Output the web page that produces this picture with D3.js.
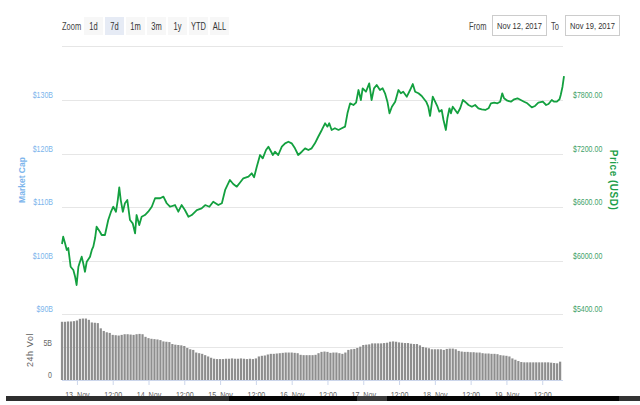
<!DOCTYPE html>
<html>
<head>
<meta charset="utf-8">
<script src="https://cdn.jsdelivr.net/npm/d3@7"></script>
<style>
	body { margin: 0; background: #fff; }
	svg { display: block; font-family: "Liberation Sans", Arial, sans-serif; }
</style>
</head>
<body>
<svg id="chart" width="640" height="405"></svg>
<script>

var startTime = new Date(2017, 10, 12, 19, 0);

// hours after startTime, USD price
var priceHours = [0, 0.4, 1.0, 1.6, 2.1, 2.9, 3.8, 4.4, 4.9, 5.5, 6.0, 6.6, 7.1, 7.7, 8.3, 9.4, 10.0, 10.5, 11.1, 11.6,
	12.7, 13.3, 14.4, 15.5, 16.4, 17.2, 18.1, 18.7, 19.2, 19.7, 20.4, 21.1, 21.9, 22.8, 23.7, 24.5, 25.0, 25.9, 26.7, 27.8,
	28.9, 30.1, 31.2, 32.9, 34.0, 35.1, 36.2, 37.9, 39.0, 40.1, 41.2, 42.4, 43.5, 45.2, 46.8, 48.0, 49.4, 50.7, 52.4, 53.6,
	54.7, 56.3, 57.4, 58.6, 59.7, 60.8, 62.5, 63.6, 64.4, 65.3, 66.4, 67.3, 68.4, 69.2, 69.8, 70.7, 71.4, 72.5, 73.7, 74.8,
	75.9, 77.0, 78.1, 79.2, 80.4, 81.5, 82.6, 83.7, 84.8, 85.9, 87.1, 88.2, 89.0, 89.6, 90.4, 91.5, 92.7, 93.8, 94.9, 95.7,
	96.6, 97.7, 98.6, 99.4, 100.2, 100.8, 101.9, 103.0, 103.8, 104.6, 105.5, 106.6, 107.5, 108.3, 109.1, 109.8, 110.6, 111.7, 112.8, 113.6,
	114.4, 115.6, 116.7, 117.6, 118.4, 119.5, 120.6, 122.1, 122.8, 123.4, 124.3, 125.1, 125.9, 126.5, 127.3, 127.9, 128.7, 129.2, 129.9, 130.4,
	131.0, 131.8, 132.6, 133.5, 134.4, 135.1, 136.3, 137.4, 138.5, 139.6, 140.7, 141.9, 143.0, 143.8, 144.9, 146.0, 146.9, 147.6, 148.2, 149.3,
	150.5, 151.6, 152.7, 153.8, 154.9, 156.0, 157.5, 158.6, 159.7, 161.2, 162.3, 163.1, 164.2, 165.0, 165.9, 166.8, 167.2, 167.8, 168.3];

var priceValues = [6185, 6267, 6196, 6118, 6140, 5930, 5893, 5818, 5725, 5930, 5983, 6043, 5972, 5874, 5987, 6043, 6118, 6155, 6252, 6379,
	6323, 6286, 6286, 6454, 6544, 6603, 6547, 6678, 6821, 6678, 6547, 6642, 6678, 6454, 6417, 6305, 6510, 6398, 6491, 6510,
	6547, 6603, 6698, 6698, 6716, 6642, 6603, 6622, 6547, 6622, 6566, 6491, 6510, 6566, 6585, 6622, 6603, 6659, 6622, 6642,
	6791, 6903, 6858, 6828, 6875, 6922, 6940, 6978, 6933, 7052, 7183, 7146, 7239, 7276, 7239, 7183, 7220, 7183, 7276, 7314,
	7332, 7314, 7258, 7183, 7220, 7258, 7239, 7258, 7314, 7388, 7464, 7539, 7501, 7539, 7464, 7483, 7464, 7483, 7501, 7651,
	7763, 7744, 7770, 7912, 7800, 7931, 7893, 7987, 7800, 7931, 7968, 7912, 7931, 7875, 7781, 7651, 7725, 7781, 7912, 7875,
	7893, 7837, 7912, 7979, 7893, 7875, 7845, 7781, 7725, 7621, 7837, 7781, 7725, 7669, 7688, 7576, 7464, 7595, 7707, 7651,
	7725, 7688, 7651, 7707, 7800, 7781, 7744, 7725, 7744, 7707, 7696, 7688, 7707, 7763, 7770, 7763, 7781, 7875, 7819, 7792,
	7781, 7808, 7819, 7800, 7781, 7763, 7718, 7733, 7770, 7781, 7744, 7755, 7800, 7781, 7781, 7808, 7856, 7949, 8069];

// hourly 24h volume, billions USD
var volumeValues = [8.9, 8.9, 8.95, 8.95, 9.0, 9.1, 9.35, 9.4, 9.4, 9.2, 8.8, 8.75, 8.7, 7.9, 7.5, 7.3, 7.2, 6.9, 6.85, 6.8,
	6.9, 7.0, 7.0, 6.95, 6.9, 7.0, 7.05, 7.0, 6.6, 6.4, 6.3, 6.25, 6.2, 6.1, 5.9, 5.85, 5.8, 5.5, 5.4, 5.35,
	5.3, 5.2, 4.9, 4.7, 4.6, 4.2, 4.1, 4.0, 3.8, 3.6, 3.4, 3.25, 3.2, 3.2, 3.2, 3.25, 3.25, 3.3, 3.25, 3.25,
	3.3, 3.25, 3.2, 3.25, 3.2, 3.3, 3.6, 3.7, 3.75, 3.9, 4.0, 4.0, 4.05, 4.1, 4.15, 4.2, 4.2, 4.2, 4.15, 4.1,
	3.85, 3.8, 3.8, 3.8, 3.8, 3.85, 4.1, 4.3, 4.35, 4.3, 4.15, 4.2, 4.2, 4.1, 4.0, 4.2, 4.6, 4.7, 4.75, 4.9,
	5.1, 5.35, 5.4, 5.45, 5.6, 5.6, 5.6, 5.6, 5.65, 5.7, 5.85, 5.9, 5.85, 5.75, 5.7, 5.65, 5.65, 5.55, 5.5, 5.5,
	5.3, 5.05, 4.95, 4.85, 4.7, 4.7, 4.7, 4.7, 4.6, 4.75, 4.8, 4.8, 4.7, 4.45, 4.35, 4.3, 4.3, 4.25, 4.25, 4.2,
	4.2, 4.1, 4.05, 4.05, 4.0, 4.0, 3.95, 3.8, 3.75, 3.7, 3.6, 3.3, 3.1, 2.9, 2.75, 2.7, 2.7, 2.7, 2.7, 2.7,
	2.7, 2.7, 2.7, 2.7, 2.65, 2.6, 2.55, 2.8];

var capTicks = [90, 100, 110, 120, 130];
var priceTicks = [5400, 6000, 6600, 7200, 7800];
var volumeTicks = [0, 5];
var zoomButtons = ["1d", "7d", "1m", "3m", "1y", "YTD", "ALL"];
var dateRange = ["Nov 12, 2017", "Nov 19, 2017"];

var svg = d3.select("#chart");
var plotLeft = 62, plotRight = 563;

var hour = function (h) { return new Date(startTime.getTime() + h * 3600000); };

// squeeze text horizontally, the original uses a narrow face
function condense(sel, k) {
	sel.each(function () {
		var w = this.getComputedTextLength();
		d3.select(this).attr("textLength", w * k).attr("lengthAdjust", "spacingAndGlyphs");
	});
}

var x = d3.scaleTime()
	.domain([startTime, hour(d3.max(priceHours))])
	.range([plotLeft, 564]);
var yPrice = d3.scaleLinear().domain([5400, 7800]).range([314, 100]);
var yCap = d3.scaleLinear().domain([90, 130]).range([314, 100]);
var yVol = d3.scaleLinear().domain([0, 10]).range([380, 314.6]);

// toolbar
svg.append("text")
	.attr("class", "tb")
	.attr("x", plotLeft).attr("y", 29.5)
	.attr("font-size", 10).attr("fill", "#444")
	.text("Zoom");

var btn = svg.selectAll(".btn").data(zoomButtons).enter().append("g")
	.attr("class", "btn")
	.attr("transform", function (d, i) { return "translate(" + (84 + i * 21) + ",17)"; });
btn.append("rect")
	.attr("width", 19).attr("height", 18)
	.attr("fill", function (d) { return d === "7d" ? "#e6ebf5" : "#f7f7f7"; });
btn.append("text")
	.attr("class", "tb")
	.attr("x", 9.5).attr("y", 12.5)
	.attr("text-anchor", "middle")
	.attr("font-size", 10).attr("fill", "#333")
	.text(function (d) { return d; });

svg.append("text").attr("class", "tb").attr("x", 469).attr("y", 29.5).attr("font-size", 10).attr("fill", "#444").text("From");
svg.append("text").attr("class", "tb").attr("x", 551).attr("y", 29.5).attr("font-size", 10).attr("fill", "#444").text("To");
condense(svg.selectAll(".tb"), 0.75);

var dateBox = svg.selectAll(".datebox").data(dateRange).enter().append("g")
	.attr("class", "datebox")
	.attr("transform", function (d, i) { return "translate(" + (492 + i * 73) + ",15)"; });
dateBox.append("rect")
	.attr("x", 0.5).attr("y", 0.5)
	.attr("width", 54).attr("height", 20)
	.attr("fill", "#fff").attr("stroke", "#ccc");
dateBox.append("text")
	.attr("x", 27.5).attr("y", 14)
	.attr("text-anchor", "middle")
	.attr("font-size", 9.2).attr("fill", "#333")
	.text(function (d) { return d; });
condense(dateBox.selectAll("text"), 0.82);

svg.append("line")
	.attr("x1", plotLeft).attr("x2", plotRight)
	.attr("y1", 46.5).attr("y2", 46.5)
	.attr("stroke", "#e6e6e6");

// grid
svg.append("g").selectAll("line").data(priceTicks).enter().append("line")
	.attr("x1", plotLeft).attr("x2", plotRight)
	.attr("y1", function (d) { return Math.round(yPrice(d)) + 0.5; })
	.attr("y2", function (d) { return Math.round(yPrice(d)) + 0.5; })
	.attr("stroke", "#e6e6e6");
svg.append("g").selectAll("line").data([5]).enter().append("line")
	.attr("x1", plotLeft).attr("x2", plotRight)
	.attr("y1", function (d) { return Math.round(yVol(d)) + 0.5; })
	.attr("y2", function (d) { return Math.round(yVol(d)) + 0.5; })
	.attr("stroke", "#e6e6e6");

// axes
var capAxis = svg.append("g")
	.attr("transform", "translate(" + (plotLeft - 9) + ",0)")
	.call(d3.axisLeft(yCap).tickValues(capTicks).tickSize(0).tickPadding(0)
		.tickFormat(function (d) { return "$" + d + "B"; }));
var priceAxis = svg.append("g")
	.attr("transform", "translate(" + (plotRight + 10) + ",0)")
	.call(d3.axisRight(yPrice).tickValues(priceTicks).tickSize(0).tickPadding(0)
		.tickFormat(function (d) { return "$" + d3.format(".2f")(d); }));
var volAxis = svg.append("g")
	.attr("transform", "translate(" + (plotLeft - 10) + ",0)")
	.call(d3.axisLeft(yVol).tickValues(volumeTicks).tickSize(0).tickPadding(0)
		.tickFormat(function (d) { return d === 0 ? "0" : d + "B"; }));

[capAxis, priceAxis, volAxis].forEach(function (a) {
	a.select(".domain").remove();
	a.selectAll("text").attr("font-family", null).attr("font-size", 9).attr("y", -5);
	condense(a.selectAll("text"), 0.78);
});
capAxis.selectAll("text").attr("fill", "#7cb5ec");
priceAxis.selectAll("text").attr("fill", "#3f9f6a");
volAxis.selectAll("text").attr("fill", "#666");

svg.append("text")
	.attr("transform", "translate(25,180) rotate(-90)")
	.attr("text-anchor", "middle")
	.attr("font-size", 8.5).attr("font-weight", "bold")
	.attr("fill", "#7cb5ec")
	.text("Market Cap");
svg.append("text")
	.attr("transform", "translate(610,180) rotate(90)")
	.attr("text-anchor", "middle")
	.attr("font-size", 10).attr("font-weight", "bold").attr("letter-spacing", 0.5)
	.attr("fill", "#1e9e4a")
	.text("Price (USD)");
svg.append("text")
	.attr("transform", "translate(33,350) rotate(-90)")
	.attr("text-anchor", "middle")
	.attr("font-size", 9).attr("letter-spacing", 0.6)
	.attr("fill", "#666")
	.text("24h Vol");

// volume columns
svg.append("g").selectAll("rect").data(volumeValues).enter().append("rect")
	.attr("x", function (d, i) { return x(hour(i)) - 1.1; })
	.attr("y", function (d) { return yVol(d); })
	.attr("width", 2.2)
	.attr("height", function (d) { return yVol(0) - yVol(d); })
	.attr("fill", "#8e8e8e");

// x axis
var xAxis = svg.append("g")
	.attr("transform", "translate(0,380)")
	.call(d3.axisBottom(x).ticks(d3.timeHour.every(12)).tickSize(5).tickPadding(6)
		.tickFormat(function (d) { return d.getHours() === 0 ? d3.timeFormat("%d. %b")(d) : d3.timeFormat("%H:%M")(d); }));
xAxis.select(".domain").attr("stroke", "#ccd6eb").attr("d", "M" + plotLeft + ",0.5H" + plotRight);
xAxis.selectAll(".tick line").attr("stroke", "#ccd6eb");
xAxis.selectAll("text").attr("font-family", null).attr("font-size", 9.5).attr("fill", "#666");
condense(xAxis.selectAll("text"), 0.75);

// price line
var pricePoints = priceHours.map(function (h, i) { return [hour(h), priceValues[i]]; });
svg.append("path")
	.datum(pricePoints)
	.attr("fill", "none")
	.attr("stroke", "#13a03f")
	.attr("stroke-width", 1.8)
	.attr("stroke-linejoin", "round")
	.attr("d", d3.line()
		.x(function (d) { return x(d[0]); })
		.y(function (d) { return yPrice(d[1]); }));

// scrubber bar along the bottom
svg.append("rect").attr("x", 6).attr("y", 396).attr("width", 634).attr("height", 5).attr("fill", "#050505");
svg.append("rect").attr("x", 6).attr("y", 396).attr("width", 223).attr("height", 5).attr("fill", "#2e2e2e");
svg.append("rect").attr("x", 357).attr("y", 396).attr("width", 30).attr("height", 5).attr("fill", "#3a3a3a");
svg.append("rect").attr("x", 619).attr("y", 396).attr("width", 21).attr("height", 5).attr("fill", "#333");

</script>
</body>
</html>
